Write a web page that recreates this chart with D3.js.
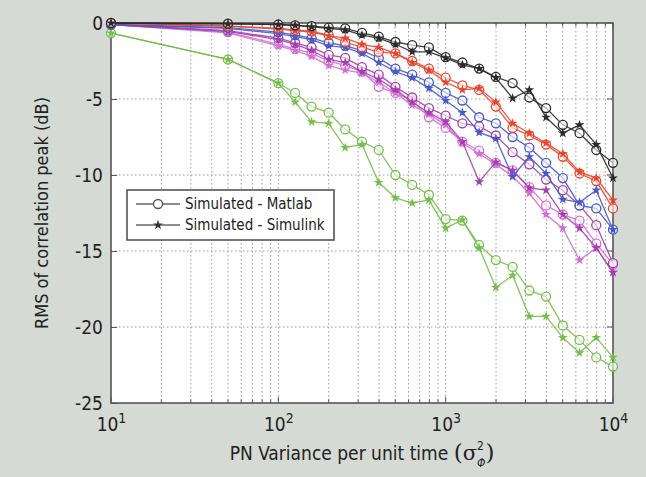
<!DOCTYPE html>
<html>
<head>
<meta charset="utf-8">
<script src="https://cdn.jsdelivr.net/npm/d3@7"></script>
<style>
  body { margin: 0; background: #d5dad5; }
  svg { display: block; font-family: "Liberation Sans Narrow", "DejaVu Sans Condensed", sans-serif; }
</style>
</head>
<body>
<div id="chart"></div>
<script>
const pnVariance = [10, 50, 100, 126, 158, 200, 251, 316, 398, 501, 631, 794, 1000,
  1259, 1585, 1995, 2512, 3162, 3981, 5012, 6310, 7943, 10000];

const blackMatlab = [0, -0.05, -0.1, -0.15, -0.2, -0.3, -0.35, -0.65, -0.9, -1.25, -1.45, -1.6, -2.25,
  -2.6, -3.0, -3.55, -3.95, -4.9, -5.6, -6.7, -7.25, -8.35, -9.2];
const blackSimulink = [0, -0.05, -0.1, -0.15, -0.25, -0.35, -0.45, -0.8, -1.0, -1.4, -1.9, -1.9, -2.3,
  -2.75, -3.0, -3.6, -4.95, -4.4, -6.2, -7.25, -6.7, -8.0, -10.2];
const redMatlab = [0, -0.2, -0.35, -0.45, -0.55, -0.8, -1.25, -1.6, -1.9, -2.0, -2.5, -3.0, -3.6,
  -4.1, -4.4, -5.5, -6.9, -7.4, -8.0, -8.8, -9.9, -10.4, -12.2];
const redSimulink = [0, -0.2, -0.4, -0.5, -0.6, -0.85, -1.0, -1.4, -1.6, -2.0, -2.6, -3.1, -3.9,
  -4.4, -4.3, -5.2, -6.6, -7.25, -7.9, -8.6, -9.8, -10.2, -11.65];
const blueMatlab = [-0.1, -0.3, -0.6, -0.8, -1.0, -1.3, -1.5, -1.8, -2.3, -3.0, -3.4, -3.9, -4.6,
  -5.1, -6.2, -6.6, -7.5, -8.2, -9.2, -10.2, -12.0, -12.2, -13.6];
const blueSimulink = [-0.1, -0.35, -0.7, -0.9, -1.1, -1.5, -1.6, -2.0, -2.6, -3.2, -3.6, -4.3, -5.1,
  -5.9, -7.2, -7.6, -10.1, -8.8, -9.9, -11.6, -11.8, -11.0, -13.6];
const purpleMatlab = [-0.1, -0.5, -1.0, -1.3, -1.6, -2.1, -2.3, -2.9, -3.4, -4.2, -4.9, -5.6, -6.1,
  -6.6, -6.8, -7.4, -8.5, -9.3, -10.3, -11.0, -12.0, -13.3, -15.8];
const purpleSimulink = [-0.1, -0.55, -1.1, -1.4, -1.8, -2.4, -2.6, -3.2, -3.7, -4.4, -5.2, -5.9, -6.5,
  -7.8, -10.45, -9.15, -9.7, -10.85, -11.0, -12.6, -13.5, -14.8, -16.4];
const pinkMatlab = [-0.1, -0.6, -1.4, -1.7, -2.0, -2.5, -2.8, -3.2, -4.2, -4.6, -5.1, -6.2, -6.9,
  -7.8, -8.4, -9.2, -9.7, -10.8, -12.0, -12.6, -13.0, -14.5, -15.9];
const pinkSimulink = [-0.1, -0.65, -1.5, -1.8, -2.2, -2.8, -3.1, -3.3, -3.9, -4.6, -5.4, -6.0, -6.7,
  -7.9, -8.6, -9.3, -10.1, -11.2, -12.6, -13.5, -15.6, -14.8, -16.4];
const greenMatlab = [-0.66, -2.4, -3.95, -4.6, -5.5, -5.9, -7.0, -7.8, -8.35, -10.0, -10.65, -11.3, -12.9,
  -13.0, -14.6, -15.6, -16.05, -17.6, -18.0, -19.9, -20.85, -22.0, -22.6];
const greenSimulink = [-0.66, -2.4, -3.95, -5.2, -6.5, -6.6, -8.2, -8.0, -10.5, -11.5, -11.85, -11.65, -13.5,
  -12.95, -14.8, -17.4, -16.6, -19.3, -19.3, -20.7, -21.7, -20.7, -22.0];

const yTicks = [0, -5, -10, -15, -20, -25];
const xTicks = [10, 100, 1000, 10000];
const legendLabels = ["Simulated - Matlab", "Simulated - Simulink"];

const series = [
  { values: greenMatlab, color: "#74bf4a", kind: "matlab" },
  { values: greenSimulink, color: "#74bf4a", kind: "simulink" },
  { values: pinkMatlab, color: "#d46ed6", kind: "matlab" },
  { values: pinkSimulink, color: "#d46ed6", kind: "simulink" },
  { values: purpleMatlab, color: "#a43fae", kind: "matlab" },
  { values: purpleSimulink, color: "#a43fae", kind: "simulink" },
  { values: blueMatlab, color: "#4858c8", kind: "matlab" },
  { values: blueSimulink, color: "#4858c8", kind: "simulink" },
  { values: redMatlab, color: "#e8452e", kind: "matlab" },
  { values: redSimulink, color: "#e8452e", kind: "simulink" },
  { values: blackMatlab, color: "#2a2a2a", kind: "matlab" },
  { values: blackSimulink, color: "#2a2a2a", kind: "simulink" }
];

const width = 646;
const height = 477;
const marginTop = 23;
const marginRight = 33;
const marginBottom = 74;
const marginLeft = 111;

const svg = d3.select("#chart").append("svg")
  .attr("width", width)
  .attr("height", height)
  .attr("viewBox", [0, 0, width, height]);

const x = d3.scaleLog().domain([10, 10000]).range([marginLeft, width - marginRight]);
const y = d3.scaleLinear().domain([-25, 0]).range([height - marginBottom, marginTop]);

// plot area
svg.append("rect")
  .attr("x", marginLeft).attr("y", marginTop)
  .attr("width", x.range()[1] - marginLeft)
  .attr("height", y.range()[0] - marginTop)
  .attr("fill", "#fff");

// grid
const grid = svg.append("g")
  .attr("stroke", "#9a9a9a")
  .attr("stroke-width", 1)
  .attr("stroke-dasharray", "1.5,2.5");

grid.selectAll(".gx")
  .data(x.ticks().filter(d => d > 10 && d < 10000))
  .join("line")
  .attr("x1", d => x(d)).attr("x2", d => x(d))
  .attr("y1", marginTop).attr("y2", y(-25));

grid.selectAll(".gy")
  .data(yTicks.filter(d => d < 0 && d > -25))
  .join("line")
  .attr("y1", d => y(d)).attr("y2", d => y(d))
  .attr("x1", marginLeft).attr("x2", x(10000));

// minor ticks on bottom and top
const minor = svg.append("g").attr("stroke", "#555");
x.ticks().forEach(d => {
  const len = xTicks.includes(d) ? 6 : 3.5;
  minor.append("line").attr("x1", x(d)).attr("x2", x(d))
    .attr("y1", y(-25)).attr("y2", y(-25) - len);
  minor.append("line").attr("x1", x(d)).attr("x2", x(d))
    .attr("y1", marginTop).attr("y2", marginTop + len);
});
yTicks.forEach(d => {
  minor.append("line").attr("y1", y(d)).attr("y2", y(d))
    .attr("x1", x(10000)).attr("x2", x(10000) - 6);
});

// axes
const yAxisG = svg.append("g")
  .attr("transform", `translate(${marginLeft},0)`)
  .call(d3.axisLeft(y).tickValues(yTicks).tickSize(-6).tickPadding(8).tickFormat(d => d))
  .attr("font-family", null)
  .attr("font-size", 19);
yAxisG.select(".domain").remove();
yAxisG.selectAll("line").attr("stroke", "#555");
yAxisG.selectAll("text").attr("fill", "#222");

const xAxisG = svg.append("g")
  .attr("transform", `translate(0,${y(-25)})`)
  .call(d3.axisBottom(x).tickValues(xTicks).tickSize(0).tickPadding(15).tickFormat(() => ""))
  .attr("font-family", null)
  .attr("font-size", 19);
xAxisG.select(".domain").remove();
xAxisG.selectAll("text").attr("fill", "#222").each(function (d) {
  const t = d3.select(this);
  t.append("tspan").text("10");
  t.append("tspan").attr("dy", -8).attr("font-size", 14).text(Math.round(Math.log10(d)));
});

// frame
svg.append("rect")
  .attr("x", marginLeft).attr("y", marginTop)
  .attr("width", x.range()[1] - marginLeft)
  .attr("height", y.range()[0] - marginTop)
  .attr("fill", "none")
  .attr("stroke", "#555")
  .attr("stroke-width", 1.6);

// series
const line = d3.line()
  .x((_, i) => x(pnVariance[i]))
  .y(d => y(d));

const starPath = d3.symbol(d3.symbolStar, 30)();
const plot = svg.append("g");

series.forEach(s => {
  const g = plot.append("g");
  g.append("path")
    .attr("d", line(s.values))
    .attr("fill", "none")
    .attr("stroke", s.color)
    .attr("stroke-width", 1.3)
    .attr("stroke-opacity", 0.9);
  if (s.kind === "matlab") {
    g.selectAll("circle")
      .data(s.values)
      .join("circle")
      .attr("cx", (_, i) => x(pnVariance[i]))
      .attr("cy", d => y(d))
      .attr("r", 4.5)
      .attr("fill", "#fff")
      .attr("fill-opacity", 0.6)
      .attr("stroke", s.color)
      .attr("stroke-width", 1.3);
  } else {
    g.selectAll("path.pt")
      .data(s.values)
      .join("path")
      .attr("class", "pt")
      .attr("d", starPath)
      .attr("transform", (d, i) => `translate(${x(pnVariance[i])},${y(d)})`)
      .attr("fill", s.color);
  }
});

// legend
const legend = svg.append("g");
legend.append("rect")
  .attr("x", 127).attr("y", 190)
  .attr("width", 207).attr("height", 50)
  .attr("fill", "#fff")
  .attr("stroke", "#555")
  .attr("stroke-width", 1.6);

legendLabels.forEach((label, i) => {
  const ly = 204 + i * 21;
  legend.append("line")
    .attr("x1", 136).attr("x2", 180)
    .attr("y1", ly).attr("y2", ly)
    .attr("stroke", "#666").attr("stroke-width", 1.3);
  if (i === 0) {
    legend.append("circle").attr("cx", 158).attr("cy", ly).attr("r", 4.5)
      .attr("fill", "#fff").attr("stroke", "#555").attr("stroke-width", 1.3);
  } else {
    legend.append("path").attr("d", starPath)
      .attr("transform", `translate(158,${ly})`).attr("fill", "#333");
  }
  legend.append("text")
    .attr("x", 185).attr("y", ly)
    .attr("dy", "0.35em")
    .attr("font-size", 15)
    .attr("fill", "#222")
    .text(label);
});

// axis titles
svg.append("text")
  .attr("transform", `translate(48,${(marginTop + y(-25)) / 2}) rotate(-90)`)
  .attr("text-anchor", "middle")
  .attr("font-size", 18)
  .attr("fill", "#222")
  .text("RMS of correlation peak (dB)");

const xTitle = svg.append("text")
  .attr("x", 362).attr("y", 460)
  .attr("text-anchor", "middle")
  .attr("font-size", 19)
  .attr("fill", "#222");
xTitle.append("tspan").text("PN Variance per unit time ");
xTitle.append("tspan").attr("font-family", "DejaVu Serif, serif").attr("font-size", 23).text("(");
xTitle.append("tspan").attr("font-family", "DejaVu Serif, serif").attr("font-size", 21).text("σ");
xTitle.append("tspan").attr("font-size", 12).attr("dy", -10).text("2");
xTitle.append("tspan").attr("font-size", 12).attr("font-style", "italic").attr("dx", -7).attr("dy", 17).text("Φ");
xTitle.append("tspan").attr("font-family", "DejaVu Serif, serif").attr("font-size", 23).attr("dy", -7).text(")");
</script>
</body>
</html>
